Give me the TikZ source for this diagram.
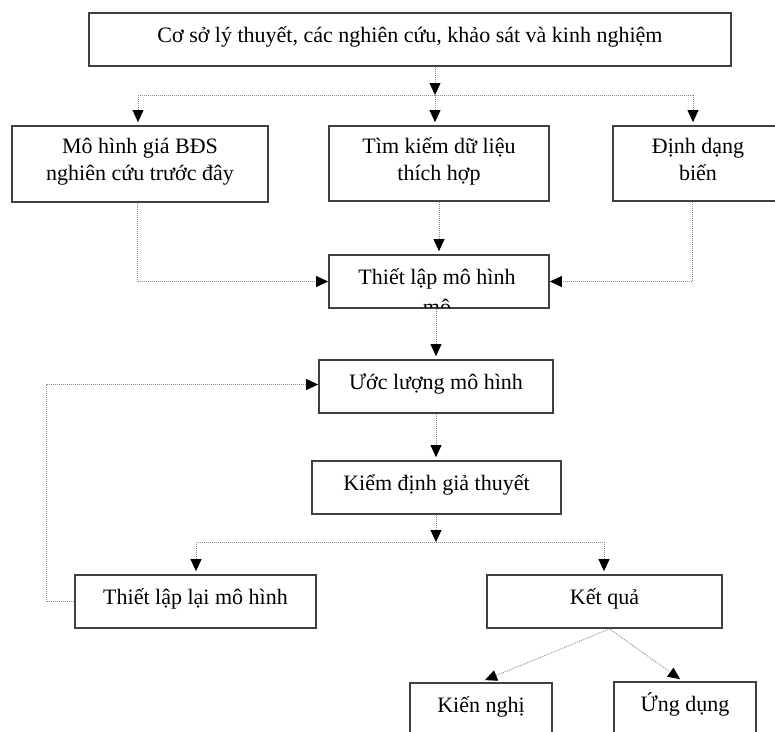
\documentclass[tikz,border=0pt]{standalone}
\usepackage{fontspec}
\setmainfont{Liberation Serif}
\usetikzlibrary{arrows.meta}
\newcommand{\twol}[2]{\raisebox{0pt}[40pt][7pt]{\begin{tabular}[b]{@{}c@{}}#1\\#2\end{tabular}}}
\begin{document}
\begin{tikzpicture}[x=1pt,y=-1pt,
  txt/.style={font=\fontsize{22}{27}\selectfont, text=black, inner sep=0pt},
  box/.style={txt, draw=black!75, line width=1.8pt},
  one/.style={text height=13pt, text depth=7pt},
  conn/.style={draw=black!45, line width=0.8pt, dash pattern=on 1pt off 1pt},
  arr/.style={conn, -{Triangle[length=12pt,width=11pt,color=black]}},
  gap/.style={shorten >=3pt}
]
\useasboundingbox (0,0) rectangle (775,731);
\clip (0,0) rectangle (775,731);
\fill[white] (0,0) rectangle (775,731);

% boxes
\node[box,one,minimum width=642pt,minimum height=53pt] (top) at (410,39.5) {Cơ sở lý thuyết, các nghiên cứu, khảo sát và kinh nghiệm};
\node[box,minimum width=256pt,minimum height=76pt] (b1) at (140,164) {\twol{Mô hình giá BĐS}{nghiên cứu trước đây}};
\node[box,minimum width=220pt,minimum height=75pt] (b2) at (439,163.5) {\twol{Tìm kiếm dữ liệu}{thích hợp}};
\node[box,minimum width=170pt,minimum height=75pt] (b3) at (698,163.5) {\twol{Định dạng}{biến}};
\node[box,one,minimum width=220pt,minimum height=53pt] (tl) at (439,281.5) {\hspace*{-4pt}Thiết lập mô hình};
\begin{scope}
  \clip (tl.north west) rectangle ([yshift=1.5pt]tl.south east);
  \node[txt,anchor=base] (tlm) at (437,314) {mô};
\end{scope}
\node[box,one,minimum width=234pt,minimum height=53pt] (ul) at (436,386.5) {Ước lượng mô hình};
\node[box,one,minimum width=249pt,minimum height=53pt] (kd) at (436.5,487.5) {Kiểm định giả thuyết};
\node[box,one,minimum width=241pt,minimum height=53pt] (tll) at (195.5,601.5) {Thiết lập lại mô hình};
\node[box,one,minimum width=235pt,minimum height=53pt] (kq) at (604.5,601.5) {Kết quả};
\node[box,one,minimum width=142pt,minimum height=53pt] (kn) at (481,709.5) {Kiến nghị};
\node[box,one,minimum width=142pt,minimum height=53pt] (ud) at (685,708.5) {Ứng dụng};

% junctions
\coordinate (j1) at (435,95);
\coordinate (j1l) at (138,95);
\coordinate (j1r) at (693,95);
\coordinate (j2) at (436,542);
\coordinate (j2l) at (196,542);
\coordinate (j2r) at (604,542);

% connectors
\draw[arr] (top.south -| j1) -- (j1);
\draw[conn] (j1l) -- (j1r);
\draw[arr,gap] (j1l) -- (j1l |- b1.north);
\draw[arr,gap] (j1) -- (j1 |- b2.north);
\draw[arr,gap] (j1r) -- (j1r |- b3.north);

\draw[arr,gap] (b2.south) -- (tl.north);
\draw[arr] ([xshift=-3pt]b1.south) |- (tl.west);
\draw[arr] ([xshift=-6pt]b3.south) |- (tl.east);

\draw[arr,gap] (tl.south -| ul.north) -- (ul.north);
\draw[arr,gap] (ul.south) -- (ul.south |- kd.north);

\draw[arr] (kd.south -| j2) -- (j2);
\draw[conn] (j2l) -- (j2r);
\draw[arr,gap] (j2l) -- (j2l |- tll.north);
\draw[arr,gap] (j2r) -- (j2r |- kq.north);

\draw[arr] (tll.west) -- ++(-28,0) |- ([yshift=2pt]ul.west);

\draw[arr] ([xshift=5pt]kq.south) -- ([xshift=4pt,yshift=2pt]kn.north);
\draw[arr] ([xshift=5pt]kq.south) -- ([xshift=-5pt,yshift=2pt]ud.north);
\end{tikzpicture}
\end{document}
